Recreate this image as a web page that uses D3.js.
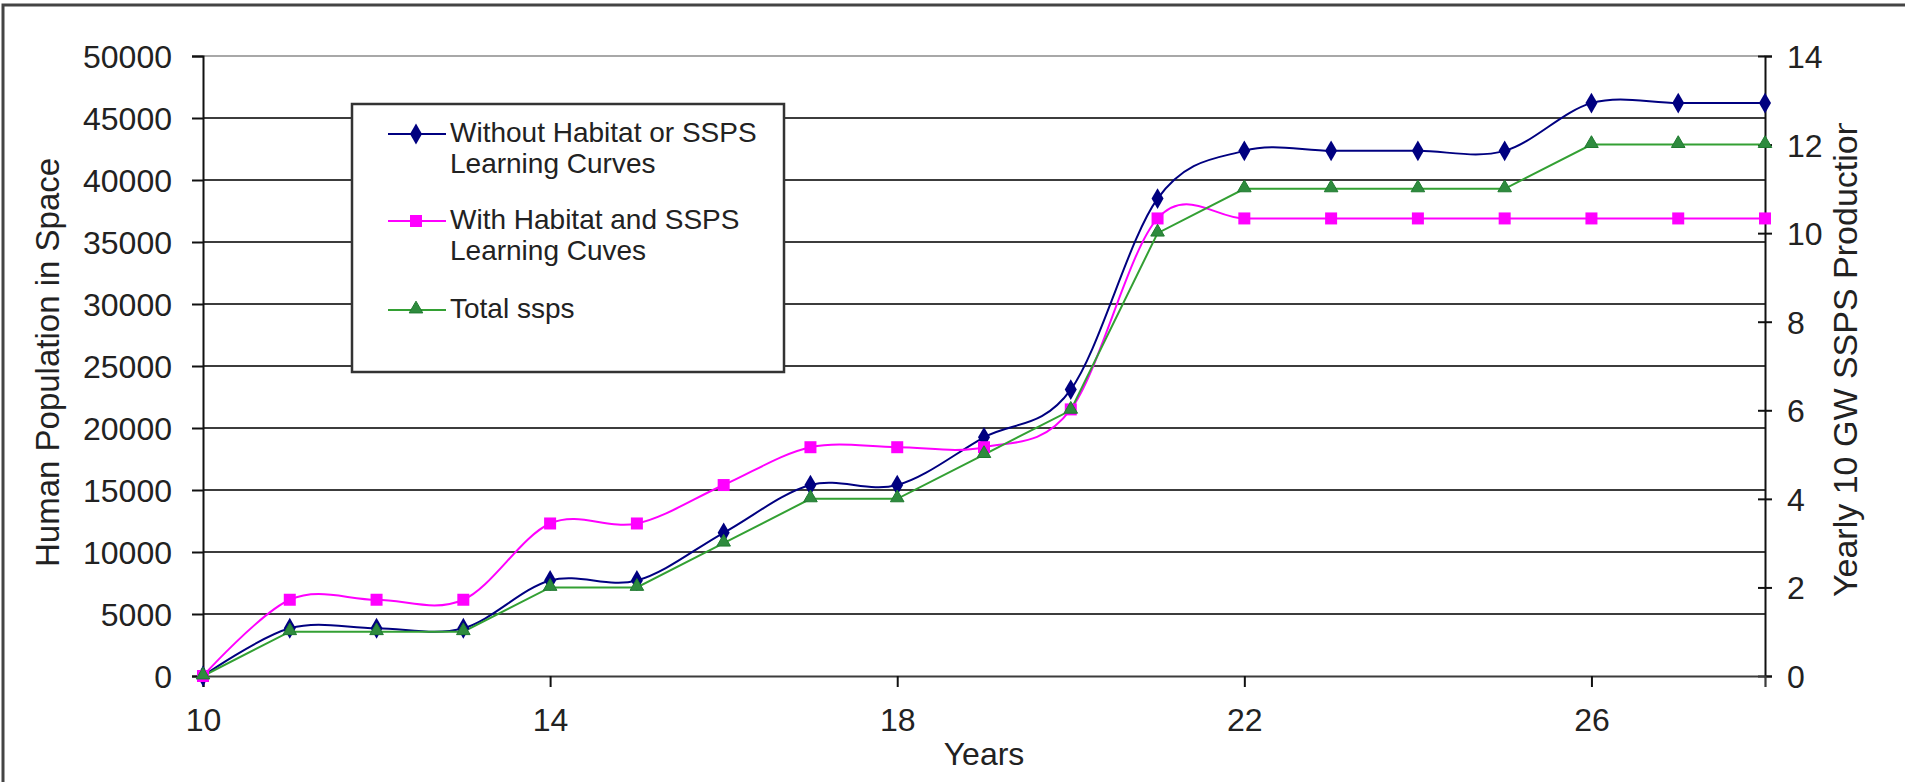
<!DOCTYPE html>
<html>
<head>
<meta charset="utf-8">
<script src="https://cdn.jsdelivr.net/npm/d3@7"></script>
<style>
  body { margin: 0; background: #fff; }
  svg { display: block; font-family: "Liberation Sans", Arial, sans-serif; }
</style>
</head>
<body>
<svg id="chart" width="1905" height="782"></svg>
<script>
// data
var years = [10, 11, 12, 13, 14, 15, 16, 17, 18, 19, 20, 21, 22, 23, 24, 25, 26, 27, 28];
var withoutCurves = [0, 3850, 3850, 3850, 7700, 7700, 11550, 15400, 15400, 19250, 23100, 38500, 42350, 42350, 42350, 42350, 46200, 46200, 46200];
var withCurves = [0, 6150, 6150, 6150, 12300, 12300, 15400, 18450, 18450, 18450, 21500, 36900, 36900, 36900, 36900, 36900, 36900, 36900, 36900];
var totalSsps = [0, 1, 1, 1, 2, 2, 3, 4, 4, 5, 6, 10, 11, 11, 11, 11, 12, 12, 12];
var xTicks = [10, 14, 18, 22, 26];
var leftTicks = [0, 5000, 10000, 15000, 20000, 25000, 30000, 35000, 40000, 45000, 50000];
var rightTicks = [0, 2, 4, 6, 8, 10, 12, 14];
var seriesNames = ["Without Habitat or SSPS|Learning Curves", "With Habitat and SSPS|Learning Cuves", "Total ssps"];

var svg = d3.select("svg#chart");

var margin = { top: 56, right: 140, bottom: 106, left: 203 };
var plotWidth = 1905 - margin.left - margin.right;
var plotHeight = 782 - margin.top - margin.bottom;

var xScale = d3.scaleLinear().domain([10, 28]).range([0, plotWidth]);
var yLeft = d3.scaleLinear().domain([0, 50000]).range([plotHeight, 0]);
var yRight = d3.scaleLinear().domain([0, 14]).range([plotHeight, 0]);

// outer chart frame (only top and left edges fall inside the picture)
svg.append("path")
    .attr("d", "M3,782 V5 H1905")
    .attr("fill", "none")
    .attr("stroke", "#444")
    .attr("stroke-width", 3);

var plot = svg.append("g").attr("transform", "translate(" + margin.left + "," + margin.top + ")");

// gridlines
plot.append("g")
    .selectAll("line")
    .data(leftTicks.filter(function(d) { return d > 0; }))
    .join("line")
    .attr("x1", 0)
    .attr("x2", plotWidth)
    .attr("y1", function(d) { return yLeft(d); })
    .attr("y2", function(d) { return yLeft(d); })
    .attr("stroke", function(d) { return d === 50000 ? "#a8a8a8" : "#3c3c3c"; })
    .attr("stroke-width", 2.2);

// left axis
var yAxisLeft = d3.axisLeft(yLeft).tickValues(leftTicks).tickFormat(d3.format("d")).tickSize(11).tickPadding(20);
var leftG = plot.append("g").call(yAxisLeft);
leftG.select(".domain").attr("stroke", "#111").attr("stroke-width", 2);
leftG.selectAll(".tick line").attr("stroke", "#111").attr("stroke-width", 2);
leftG.selectAll(".tick text").style("font-size", "32px").attr("fill", "#222").attr("dy", "0.36em");

// right axis, ticks crossing the line
var yAxisRight = d3.axisRight(yRight).tickValues(rightTicks).tickSize(7).tickPadding(15);
var rightG = plot.append("g").attr("transform", "translate(" + plotWidth + ",0)").call(yAxisRight);
rightG.select(".domain").attr("stroke", "#111").attr("stroke-width", 2);
rightG.selectAll(".tick line").attr("x1", -7).attr("stroke", "#111").attr("stroke-width", 2);
rightG.selectAll(".tick text").style("font-size", "32px").attr("fill", "#222").attr("dy", "0.36em");

// x axis
var xAxis = d3.axisBottom(xScale).tickValues(xTicks).tickSize(11).tickPadding(21);
var xG = plot.append("g").attr("transform", "translate(0," + plotHeight + ")").call(xAxis);
xG.select(".domain").attr("stroke", "#3c3c3c").attr("stroke-width", 2.2);
xG.selectAll(".tick line").attr("stroke", "#111").attr("stroke-width", 2);
xG.selectAll(".tick text").style("font-size", "32px").attr("fill", "#222");

// lines
var smooth = d3.line()
    .x(function(d) { return xScale(d.x); })
    .y(function(d) { return d.y; })
    .curve(d3.curveCardinal.tension(0));
var straight = d3.line()
    .x(function(d) { return xScale(d.x); })
    .y(function(d) { return d.y; });

function points(values, scale) {
    return years.map(function(yr, i) { return { x: yr, y: scale(values[i]) }; });
}

var navyPts = points(withoutCurves, yLeft);
var pinkPts = points(withCurves, yLeft);
var greenPts = points(totalSsps, yRight);

plot.append("path").attr("d", smooth(navyPts))
    .attr("fill", "none").attr("stroke", "#000080").attr("stroke-width", 2);
plot.append("path").attr("d", smooth(pinkPts))
    .attr("fill", "none").attr("stroke", "#ff00ff").attr("stroke-width", 2);
plot.append("path").attr("d", straight(greenPts))
    .attr("fill", "none").attr("stroke", "#33a033").attr("stroke-width", 2);

var diamond = d3.symbol().type(d3.symbolDiamond).size(125);
var triangle = d3.symbol().type(d3.symbolTriangle).size(80);

plot.append("g").selectAll("path").data(navyPts).join("path")
    .attr("transform", function(d) { return "translate(" + xScale(d.x) + "," + d.y + ")"; })
    .attr("d", diamond)
    .attr("fill", "#000080");
plot.append("g").selectAll("rect").data(pinkPts).join("rect")
    .attr("x", function(d) { return xScale(d.x) - 6; })
    .attr("y", function(d) { return d.y - 6; })
    .attr("width", 12).attr("height", 12)
    .attr("fill", "#ff00ff");
plot.append("g").selectAll("path").data(greenPts).join("path")
    .attr("transform", function(d) { return "translate(" + xScale(d.x) + "," + (d.y - 1) + ")"; })
    .attr("d", triangle)
    .attr("fill", "#2e8b3e")
    .attr("stroke", "#1f7a2f")
    .attr("stroke-width", 1);

// axis titles
svg.append("text")
    .attr("transform", "translate(59,567) rotate(-90)")
    .style("font-size", "33px")
    .attr("fill", "#222")
    .text("Human Population in Space");

// the right title runs off the top of its box in the original
svg.append("defs").append("clipPath").attr("id", "rclip")
    .append("rect").attr("x", 1800).attr("y", 123).attr("width", 105).attr("height", 650);
svg.append("g")
    .attr("clip-path", "url(#rclip)")
    .append("text")
    .attr("transform", "translate(1857,597) rotate(-90)")
    .style("font-size", "34px")
    .attr("fill", "#222")
    .text("Yearly 10 GW SSPS Production");

svg.append("text")
    .attr("x", margin.left + plotWidth / 2)
    .attr("y", 765)
    .style("text-anchor", "middle")
    .style("font-size", "32px")
    .attr("fill", "#222")
    .text("Years");

// legend
var legend = svg.append("g");
legend.append("rect")
    .attr("x", 352).attr("y", 104).attr("width", 432).attr("height", 268)
    .attr("fill", "#fff").attr("stroke", "#333").attr("stroke-width", 2.5);

var legendY = [134, 221, 310];
var legendColors = ["#000080", "#ff00ff", "#33a033"];
seriesNames.forEach(function(name, i) {
    var y = legendY[i];
    legend.append("line")
        .attr("x1", 388).attr("x2", 446).attr("y1", y).attr("y2", y)
        .attr("stroke", legendColors[i]).attr("stroke-width", 2);
    if (i === 0) {
        legend.append("path").attr("transform", "translate(416," + y + ")").attr("d", diamond).attr("fill", "#000080");
    } else if (i === 1) {
        legend.append("rect").attr("x", 410).attr("y", y - 6).attr("width", 12).attr("height", 12).attr("fill", "#ff00ff");
    } else {
        legend.append("path").attr("transform", "translate(416," + (y - 1) + ")").attr("d", triangle)
            .attr("fill", "#2e8b3e").attr("stroke", "#1f7a2f");
    }
    var lines = name.split("|");
    var txt = legend.append("text")
        .attr("x", 450).attr("y", y + 8)
        .style("font-size", "28px")
        .attr("fill", "#222");
    lines.forEach(function(l, j) {
        txt.append("tspan").attr("x", 450).attr("dy", j === 0 ? 0 : 31).text(l);
    });
});
</script>
</body>
</html>
